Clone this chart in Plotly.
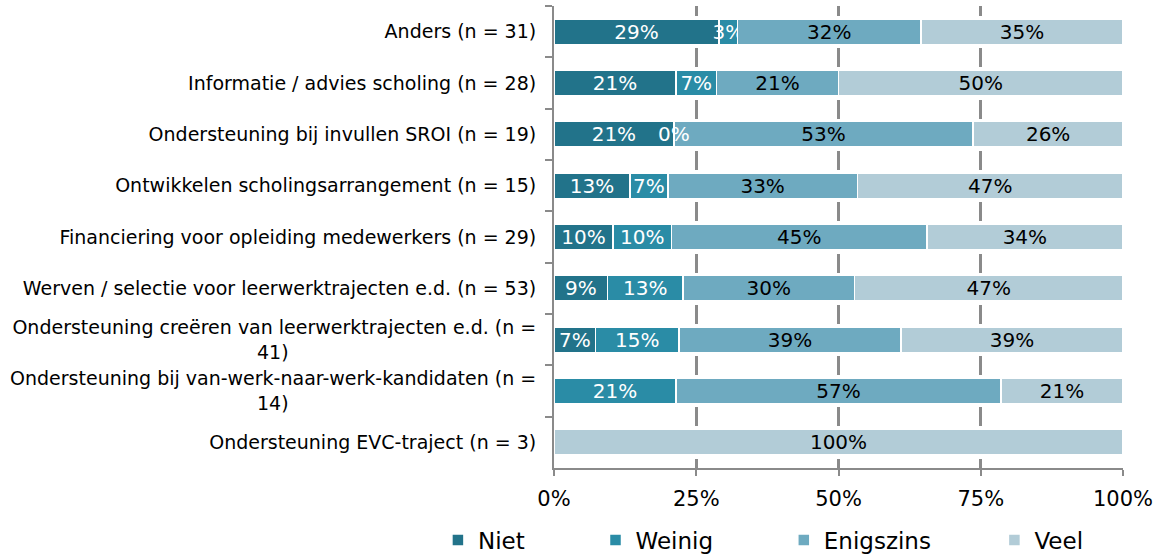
import plotly.graph_objects as go

NB = "\u00a0"
categories = [
    "Anders (n = 31)",
    "Informatie / advies scholing (n = 28)",
    "Ondersteuning bij invullen SROI (n = 19)",
    "Ontwikkelen scholingsarrangement (n = 15)",
    "Financiering voor opleiding medewerkers (n = 29)",
    "Werven / selectie voor leerwerktrajecten e.d. (n = 53)",
    "Ondersteuning creëren van leerwerktrajecten e.d. (n =<br>41)" + NB * 41,
    "Ondersteuning bij van-werk-naar-werk-kandidaten (n =<br>14)" + NB * 41,
    "Ondersteuning EVC-traject (n = 3)",
]
niet      = [29.03, 21.43, 21.05, 13.33, 10.34,  9.43,  7.32, None, None]
weinig    = [ 3.23,  7.14,  0.00,  6.67, 10.34, 13.21, 14.63, 21.43, None]
enigszins = [32.26, 21.43, 52.63, 33.33, 44.83, 30.19, 39.02, 57.14, None]
veel      = [35.48, 50.00, 26.32, 46.67, 34.48, 47.17, 39.02, 21.43, 100.0]

series_names = ["Niet", "Weinig", "Enigszins", "Veel"]
series_vals = [niet, weinig, enigszins, veel]
legend_pad = [9, 9, 8, 0]
colors = ["#22738A", "#2A8CA6", "#6EAAC0", "#B2CCD7"]
text_colors = ["white", "white", "black", "black"]
xtick_vals = [0, 25, 50, 75, 100]
xtick_text = ["0%", "25%", "50%", "75%", "100%"]

FONT = "Verdana, DejaVu Sans, sans-serif"
GRID = "#8A8A8A"
fig = go.Figure()
for name, vals, col, tcol, pad in zip(series_names, series_vals, colors, text_colors, legend_pad):
    txt = [(f"{round(v)}%" if (v is not None and v > 0) else "") for v in vals]
    fig.add_trace(go.Bar(
        y=categories, x=vals, name=name + NB * pad, orientation="h",
        marker=dict(color=col, line=dict(color="white", width=1.5)),
        text=txt, textposition="inside", insidetextanchor="middle", textangle=0,
        textfont=dict(color=tcol, size=20, family=FONT),
        constraintext="none", cliponaxis=False,
        hoverinfo="skip",
    ))

# zero-width segment label (Weinig 0% in SROI row)
for i, v in enumerate(weinig):
    if v == 0 and niet[i] is not None:
        fig.add_annotation(x=niet[i] + v, y=categories[i], text=f"{round(v)}%",
                           showarrow=False, font=dict(color="white", size=20, family=FONT))

dash = "10px,32.3px" + ",19px,32.3px" * 9

fig.update_layout(
    barmode="stack", bargap=0.5,
    width=1166, height=555,
    margin=dict(l=554, r=43, t=6, b=87, autoexpand=False),
    paper_bgcolor="white", plot_bgcolor="white",
    font=dict(family=FONT, color="black"),
    uniformtext=dict(mode="show", minsize=20),
    legend=dict(orientation="h", xref="paper", yref="paper",
                x=-0.204, xanchor="left", y=-0.156, yanchor="middle",
                font=dict(size=23, family=FONT), itemwidth=30, traceorder="normal"),
    showlegend=True,
)
fig.update_xaxes(
    range=[0, 100], tickvals=xtick_vals, ticktext=xtick_text,
    tickfont=dict(size=21, family=FONT), showgrid=True, gridcolor=GRID,
    gridwidth=2.5, griddash=dash, zeroline=False,
    showline=True, linecolor=GRID, linewidth=2,
    ticks="outside", ticklen=6, tickcolor=GRID, tickwidth=2,
    ticklabelstandoff=5,
)
fig.update_yaxes(
    categoryorder="array", categoryarray=categories, autorange="reversed",
    tickfont=dict(size=19, family=FONT),
    showline=True, linecolor=GRID, linewidth=2,
    ticks="outside", ticklen=7, tickcolor=GRID, tickwidth=2,
    tickson="boundaries", showgrid=False, ticklabelstandoff=12,
)
fig.write_html("out.html", config={"displayModeBar": False},
               post_script="document.body.style.margin='0';document.body.style.padding='0';")
